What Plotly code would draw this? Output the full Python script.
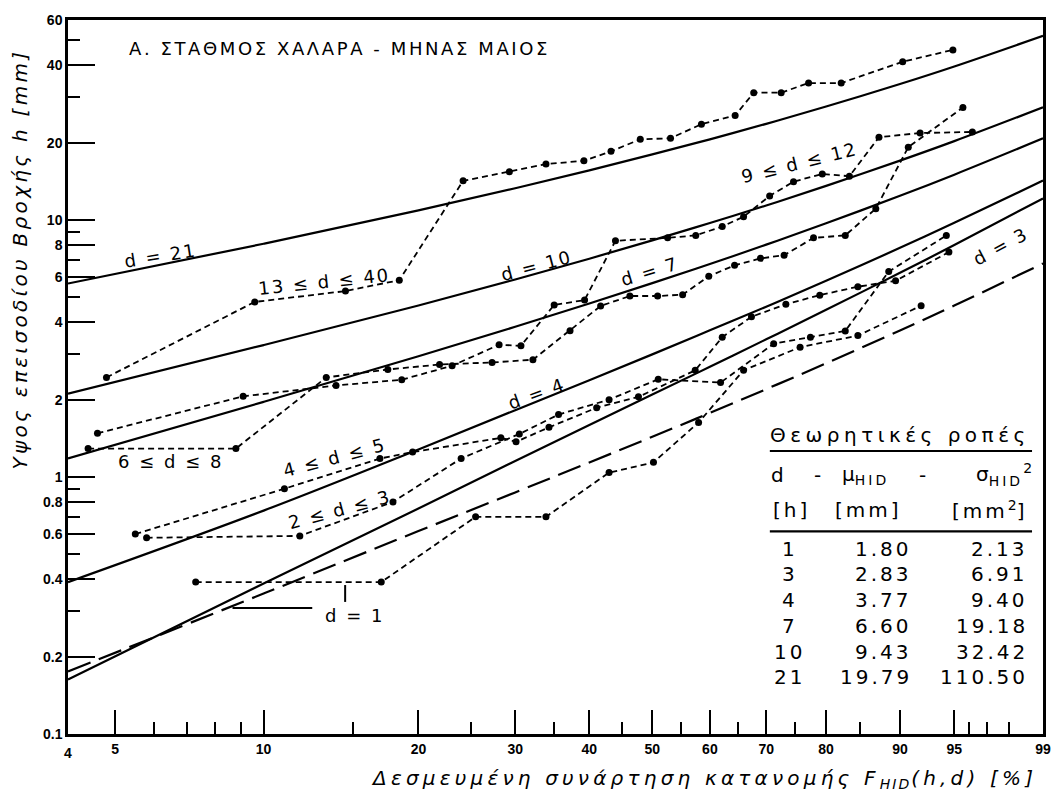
import numpy as np
import plotly.graph_objects as go

# ---------------- data ----------------
# non-exceedance probability levels (%) used for the theoretical curves
F_theory = [4, 10, 20, 30, 40, 50, 60, 70, 80, 90, 95, 99]

# theoretical rainfall depth h (mm) for each duration d (h)
h_d21 = [5.66, 8.08, 10.90, 13.29, 15.60, 17.99, 20.60, 23.67, 27.63, 33.82, 39.58, 52.07]
h_d10 = [2.11, 3.26, 4.65, 5.87, 7.07, 8.33, 9.73, 11.39, 13.57, 17.02, 20.27, 27.44]
h_d7 = [1.18, 1.96, 2.95, 3.84, 4.73, 5.68, 6.74, 8.02, 9.71, 12.42, 15.01, 20.78]
h_d4 = [0.39, 0.74, 1.28, 1.82, 2.38, 3.00, 3.72, 4.60, 5.80, 7.79, 9.75, 14.23]
h_d3 = [0.163, 0.385, 0.754, 1.155, 1.593, 2.092, 2.684, 3.433, 4.471, 6.231, 7.991, 12.13]
h_d1 = [0.175, 0.352, 0.616, 0.871, 1.139, 1.434, 1.775, 2.197, 2.769, 3.716, 4.644, 6.777]

# observed (empirical) series: F in %, h in mm
F_13_40 = [4.8, 9.6, 14.5, 18.4, 24.2, 29.3, 33.9, 39.2, 43.3, 48.0, 53.1, 58.5, 64.5, 67.8, 72.6, 77.2, 82.3, 90.3, 94.9]
h_13_40 = [2.44, 4.8, 5.29, 5.83, 14.2, 15.4, 16.5, 17.0, 18.5, 20.6, 20.8, 23.6, 25.5, 31.3, 31.3, 34.1, 34.1, 41.3, 45.9]

F_9_12 = [4.6, 9.1, 13.9, 18.6, 23.1, 28.1, 30.7, 35.0, 39.3, 44.0, 52.6, 57.5, 62.2, 66.0, 70.6, 74.7, 79.4, 83.5, 87.5, 92.1, 96.2]
h_9_12 = [1.48, 2.06, 2.27, 2.39, 2.71, 3.27, 3.24, 4.67, 4.88, 8.3, 8.52, 8.71, 9.43, 10.3, 12.4, 14.1, 15.1, 14.8, 21.0, 21.8, 22.0]

F_6_8 = [4.4, 8.8, 13.3, 17.5, 21.9, 27.3, 32.2, 37.2, 41.7, 46.3, 50.9, 55.2, 59.8, 64.4, 69.0, 73.1, 78.0, 82.9, 87.1, 90.9, 95.6]
h_6_8 = [1.29, 1.29, 2.44, 2.62, 2.74, 2.79, 2.86, 3.71, 4.63, 5.06, 5.06, 5.12, 6.04, 6.66, 7.09, 7.29, 8.52, 8.71, 11.07, 19.2, 27.4]

F_4_5 = [5.5, 11.0, 16.9, 19.5, 28.3, 30.1, 34.3, 41.1, 47.7, 57.4, 62.2, 67.4, 73.4, 79.0, 84.7, 89.5, 94.6]
h_4_5 = [0.60, 0.90, 1.18, 1.25, 1.42, 1.37, 1.56, 1.86, 2.05, 2.60, 3.50, 4.20, 4.70, 5.10, 5.50, 5.80, 7.50]

F_2_3 = [5.8, 11.8, 17.9, 24.0, 30.5, 35.6, 43.0, 51.0, 61.9, 71.3, 77.5, 82.9, 88.7, 94.4]
h_2_3 = [0.58, 0.59, 0.80, 1.18, 1.47, 1.75, 2.0, 2.4, 2.33, 3.3, 3.5, 3.7, 6.3, 8.7]

F_1 = [7.3, 17.0, 25.5, 33.9, 43.0, 50.2, 58.0, 66.0, 75.8, 84.7, 92.2]
h_1 = [0.39, 0.39, 0.70, 0.70, 1.04, 1.14, 1.63, 2.6, 3.2, 3.55, 4.64]

# axis ticks
x_major = [5, 10, 20, 30, 40, 50, 60, 70, 80, 90, 95, 99]
x_minor = [6, 7, 8, 9, 15, 25, 35, 45, 55, 65, 75, 85, 96, 97, 98]
y_major = [0.1, 0.2, 0.4, 0.6, 0.8, 1, 2, 4, 6, 8, 10, 20, 40, 60]
y_minor = [0.3, 0.5, 0.7, 0.9, 3, 5, 7, 9, 30, 50]

# table of theoretical moments
tab_d = ["1", "3", "4", "7", "10", "21"]
tab_mu = ["1.80", "2.83", "3.77", "6.60", "9.43", "19.79"]
tab_var = ["2.13", "6.91", "9.40", "19.18", "32.42", "110.50"]


def wb(p):
    """Weibull probability-paper abscissa for F given in percent."""
    p = np.asarray(p, dtype=float) / 100.0
    return np.log(-np.log(1.0 - p))


# ---------------- figure ----------------
W, H = 1063, 792
ML, MR, MT, MB = 68, 17, 15, 58
PW, PH = W - ML - MR, H - MT - MB


def px(x):
    return (x - ML) / PW


def py(y):
    return (H - MB - y) / PH


def sp(text, ls):
    return '<span style="letter-spacing:%spx">%s</span>' % (ls, text)


def note(text, x, y, font, xanchor="center", yanchor="middle", angle=0):
    fig.add_annotation(text=text, x=px(x), y=py(y), xref="paper", yref="paper", showarrow=False,
                       xanchor=xanchor, yanchor=yanchor, textangle=angle, font=font)


fig = go.Figure()

solid = dict(color="black", width=2.2)
for hv in (h_d21, h_d10, h_d7, h_d4, h_d3):
    fig.add_trace(go.Scatter(x=wb(F_theory), y=hv, mode="lines", line=dict(shape="spline", **solid),
                             hoverinfo="skip"))
fig.add_trace(go.Scatter(x=wb(F_theory), y=h_d1, mode="lines",
                         line=dict(color="black", width=2.2, dash="24px,9px", shape="spline"),
                         hoverinfo="skip"))

for Fv, hv in ((F_13_40, h_13_40), (F_9_12, h_9_12), (F_6_8, h_6_8),
               (F_4_5, h_4_5), (F_2_3, h_2_3), (F_1, h_1)):
    fig.add_trace(go.Scatter(x=wb(Fv), y=hv, mode="lines+markers",
                             line=dict(color="black", width=1.8, dash="6px,4px"),
                             marker=dict(color="black", size=7),
                             hoverinfo="skip"))

lab_font = dict(family="DejaVu Sans", size=18, color="black")
curve_labels = [
    ("d = 21", 161, 252, -9),
    ("13 ≤ d ≤ 40", 325, 278, -6),
    ("d = 10", 538, 262, -15),
    ("d = 7", 651, 268, -17),
    ("9 ≤ d ≤ 12", 802, 159, -14),
    ("d = 4", 538, 391, -20),
    ("6 ≤ d ≤ 8", 171, 460, 0),
    ("4 ≤ d ≤ 5", 335, 456, -15),
    ("2 ≤ d ≤ 3", 340, 508, -15),
    ("d = 1", 355, 615, 0),
    ("d = 3", 1003, 243, -28),
]
for txt, x, y, ang in curve_labels:
    note(sp(txt, 2), x, y, lab_font, angle=ang)

# leader marks for the d = 1 pair
fig.add_shape(type="line", x0=px(233), x1=px(313), y0=py(607), y1=py(607), xref="paper", yref="paper",
              line=dict(color="black", width=2))
fig.add_shape(type="line", x0=px(346), x1=px(346), y0=py(584), y1=py(601), xref="paper", yref="paper",
              line=dict(color="black", width=2))

# title inside the frame
note(sp("Α. ΣΤΑΘΜΟΣ ΧΑΛΑΡΑ - ΜΗΝΑΣ ΜΑΙΟΣ", 2.6), 127, 44,
     dict(family="DejaVu Sans", size=18, color="black"), xanchor="left")

# moments table
tfont = dict(family="DejaVu Sans", size=20, color="black")
note(sp("Θεωρητικές ροπές", 4.5), 903, 433, tfont)
note(sp("d", 3), 781, 473, tfont)
note("-", 820, 473, tfont)
note("μ" + "<sub>" + sp("HID", 3) + "</sub>", 842, 473, tfont, xanchor="left")
note("-", 925, 473, tfont)
note("σ" + "<sub>" + sp("HID", 3) + "</sub><sup>2</sup>", 1037, 473, tfont, xanchor="right")
note(sp("[h]", 3), 794, 508, tfont)
note(sp("[mm]", 3), 871, 508, tfont)
note(sp("[mm", 3) + "<sup>2</sup>" + "]", 1030, 508, tfont, xanchor="right")
for yl in (449, 530):
    fig.add_shape(type="line", x0=px(772), x1=px(1035), y0=py(yl), y1=py(yl), xref="paper", yref="paper",
                  line=dict(color="black", width=2.2))
row_y = [548, 573, 599, 625, 651, 677]
for d, mu, var, yr in zip(tab_d, tab_mu, tab_var, row_y):
    note(sp(d, 3), 792, yr, tfont)
    note(sp(mu, 3), 917, yr, tfont, xanchor="right")
    note(sp(var, 3), 1033, yr, tfont, xanchor="right")

# axis titles
ax_font = dict(family="DejaVu Sans", size=20, color="black", style="italic")
note(sp("Υψος επεισοδίου Βροχής h [mm]", 3.3), 20, 256, ax_font, angle=-90)
note(sp("Δεσμευμένη συνάρτηση κατανομής F", 4.2) + "<sub>" + sp("HID", 2) + "</sub>" + sp("(h,d) [%]", 4.2),
     706, 779, ax_font)

tickfont = dict(family="Liberation Sans", size=14, color="black", weight="bold")
fig.update_xaxes(range=[float(wb(4)), float(wb(99))], tickmode="array", tickvals=wb(x_major).tolist(),
                 ticktext=[str(v) for v in x_major], ticks="inside", ticklen=24, tickwidth=2,
                 tickcolor="black", showline=True, linecolor="black", linewidth=2.5, mirror=True,
                 showgrid=False, zeroline=False, tickfont=tickfont,
                 minor=dict(tickmode="array", tickvals=wb(x_minor).tolist(), ticks="inside", ticklen=12,
                            tickwidth=2, tickcolor="black", showgrid=False))
fig.update_yaxes(type="log", range=[-1, float(np.log10(60))], tickmode="array", tickvals=y_major,
                 ticktext=[str(v) for v in y_major], ticks="inside", ticklen=27, tickwidth=2,
                 tickcolor="black", showline=True, linecolor="black", linewidth=2.5, mirror=True,
                 showgrid=False, zeroline=False, tickfont=tickfont,
                 minor=dict(tickmode="array", tickvals=y_minor, ticks="inside", ticklen=12,
                            tickwidth=2, tickcolor="black", showgrid=False))

note("4", ML, 753, tickfont)

fig.update_layout(width=W, height=H, margin=dict(l=ML, r=MR, t=MT, b=MB), showlegend=False,
                  plot_bgcolor="white", paper_bgcolor="white")

fig.write_html("out.html")
